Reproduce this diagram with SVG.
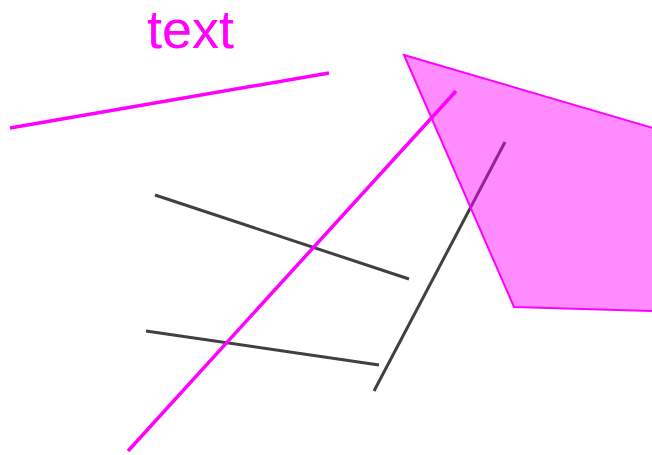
<svg xmlns="http://www.w3.org/2000/svg" width="652" height="455" viewBox="0 0 652 455">
<style>
.dark{stroke:#404040;stroke-width:3;fill:none}
.mag{stroke:#ff00ff;stroke-width:3.5;fill:none}
.txt{font-family:"Liberation Sans",Arial,sans-serif;font-size:54px;fill:#ff00ff}
</style>
<rect width="652" height="455" fill="#ffffff"/>
<g id="label"><text class="txt" x="147" y="48">text</text></g>
<g id="connectors">
<line class="mag" x1="10" y1="128" x2="329" y2="73"/>
<line class="dark" x1="155" y1="195" x2="409" y2="279"/>
<line class="dark" x1="146" y1="331" x2="379" y2="365"/>
<line class="dark" x1="374" y1="391" x2="505" y2="142"/>
<line class="mag" x1="128" y1="451" x2="456" y2="91"/>
</g>
<g id="shape">
<polygon points="404,55 653,128 653,311 514,307" fill="#ff00ff" fill-opacity="0.45" stroke="#ff00ff" stroke-width="2"/>
</g>
</svg>
